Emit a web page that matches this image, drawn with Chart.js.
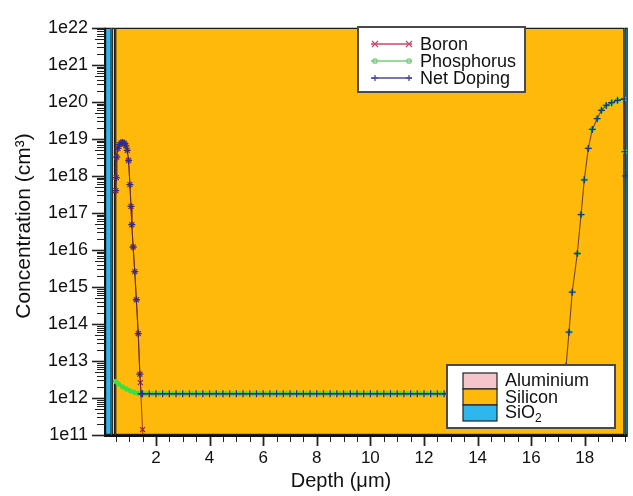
<!DOCTYPE html>
<html><head><meta charset="utf-8">
<script src="https://cdn.jsdelivr.net/npm/chart.js@4.4.0/dist/chart.umd.min.js"></script>
<style>html,body{margin:0;padding:0;background:#fff;}canvas{display:block;}</style>
</head><body>
<canvas id="c" width="633" height="496"></canvas>
<script>
// ---------- data ----------
const boronX = [0.50,0.52,0.54,0.58,0.64,0.70,0.76,0.82,0.88,0.93,0.98,1.03,1.07,1.10,1.15,1.21,1.27,1.34,1.40,1.42,1.50,1.53];
const boronY = [4e17,9e17,3.2e18,5.5e18,7e18,7.8e18,8e18,7.6e18,6.5e18,4.9e18,2.6e18,5.8e17,1.5e17,4.8e16,1.2e16,2.6e15,4.5e14,5.5e13,4.4e12,2.6e12,1.4e11,6e10];

const netLeftX = [0.50,0.52,0.54,0.58,0.64,0.70,0.76,0.82,0.88,0.93,0.98,1.03,1.07,1.10,1.15,1.21,1.27,1.34,1.40,1.45];
const netLeftY = [4e17,9e17,3.2e18,5.5e18,7e18,7.8e18,8e18,7.6e18,6.5e18,4.9e18,2.6e18,5.8e17,1.5e17,4.8e16,1.2e16,2.6e15,4.5e14,5.5e13,4.4e12,1.3e12];
const netFlatX = [1.5,1.75,2,2.25,2.5,2.75,3,3.25,3.5,3.75,
                  4,4.25,4.5,4.75,5,5.25,5.5,5.75,6,6.25,
                  6.5,6.75,7,7.25,7.5,7.75,8,8.25,8.5,8.75,
                  9,9.25,9.5,9.75,10,10.25,10.5,10.75,11,11.25,
                  11.5,11.75,12,12.25,12.5,12.75,13,13.25,13.5,13.75,
                  14,14.25,14.5,14.75,15,15.25,15.5,15.75,16,16.25,
                  16.5,16.75,17];
const netFlatY = [1.3e12,1.3e12,1.3e12,1.3e12,1.3e12,1.3e12,1.3e12,1.3e12,1.3e12,1.3e12,
                  1.3e12,1.3e12,1.3e12,1.3e12,1.3e12,1.3e12,1.3e12,1.3e12,1.3e12,1.3e12,
                  1.3e12,1.3e12,1.3e12,1.3e12,1.3e12,1.3e12,1.3e12,1.3e12,1.3e12,1.3e12,
                  1.3e12,1.3e12,1.3e12,1.3e12,1.3e12,1.3e12,1.3e12,1.3e12,1.3e12,1.3e12,
                  1.3e12,1.3e12,1.3e12,1.3e12,1.3e12,1.3e12,1.3e12,1.3e12,1.3e12,1.3e12,
                  1.3e12,1.3e12,1.3e12,1.3e12,1.3e12,1.3e12,1.3e12,1.3e12,1.3e12,1.3e12,
                  1.3e12,1.3e12,1.3e12];
const netRightX = [17.20,17.30,17.41,17.53,17.72,17.86,17.98,18.13,18.28,18.46,18.62,18.80,19.00,19.22,19.47,19.50,19.52];
const netRightY = [1.4e12,7.2e12,6e13,7.2e14,8e15,9e16,7.8e17,5.5e18,1.8e19,3.5e19,5.9e19,8e19,9.5e19,1.1e20,1.2e20,4.5e18,1e18];

const phosLeftX = [0.50,0.60,0.75,0.90,1.05,1.20,1.35];
const phosLeftY = [2.8e12,2.4e12,2.0e12,1.75e12,1.55e12,1.42e12,1.33e12];
const phosFlatX = [1.62,1.87,2.12,2.37,2.62,2.87,3.12,3.37,3.62,3.87,
                   4.12,4.37,4.62,4.87,5.12,5.37,5.62,5.87,6.12,6.37,
                   6.62,6.87,7.12,7.37,7.62,7.87,8.12,8.37,8.62,8.87,
                   9.12,9.37,9.62,9.87,10.12,10.37,10.62,10.87,11.12,11.37,
                   11.62,11.87,12.12,12.37,12.62,12.87,13.12,13.37,13.62,13.87,
                   14.12,14.37,14.62,14.87,15.12,15.37,15.62,15.87,16.12,16.37,
                   16.62,16.87];
const phosFlatY = [1.3e12,1.3e12,1.3e12,1.3e12,1.3e12,1.3e12,1.3e12,1.3e12,1.3e12,1.3e12,
                   1.3e12,1.3e12,1.3e12,1.3e12,1.3e12,1.3e12,1.3e12,1.3e12,1.3e12,1.3e12,
                   1.3e12,1.3e12,1.3e12,1.3e12,1.3e12,1.3e12,1.3e12,1.3e12,1.3e12,1.3e12,
                   1.3e12,1.3e12,1.3e12,1.3e12,1.3e12,1.3e12,1.3e12,1.3e12,1.3e12,1.3e12,
                   1.3e12,1.3e12,1.3e12,1.3e12,1.3e12,1.3e12,1.3e12,1.3e12,1.3e12,1.3e12,
                   1.3e12,1.3e12,1.3e12,1.3e12,1.3e12,1.3e12,1.3e12,1.3e12,1.3e12,1.3e12,
                   1.3e12,1.3e12];
const phosRightX = [17.20,17.30,17.41,17.53,17.72,17.86,17.98,18.13,18.28,18.46,18.62,18.80,19.00,19.22,19.47,19.50];
const phosRightY = [1.4e12,7.2e12,6e13,7.2e14,8e15,9e16,7.8e17,5.5e18,1.8e19,3.5e19,5.9e19,8e19,9.5e19,1.1e20,1.2e20,4.5e18];

// material layers (depth in µm)
const layerNames = ['SiO2','Aluminium','Silicon','SiO2'];
const layerStart = [0.10, 0.35, 0.48, 19.48];
const layerEnd   = [0.35, 0.48, 19.48, 19.60];

const seriesNames = ['Boron','Phosphorus','Net Doping'];
const materialNames = ['Aluminium','Silicon','SiO'];
const xTickLabels = [2,4,6,8,10,12,14,16,18];
const yTickExponents = [11,12,13,14,15,16,17,18,19,20,21,22];
const xTitle = 'Depth (μm)';
const yTitle = 'Concentration (cm³)';

// ---------- styles ----------
const FONT = '"Liberation Sans", Arial, Helvetica, sans-serif';
const MATERIAL_COLORS = {Aluminium:'#F6C4CB', Silicon:'#FFB90A', SiO2:'#2EB6EE'};
const COL = {boronLine:'rgba(130,20,40,0.75)', boron:'#9E1F45', phosLine:'rgba(70,225,60,0.9)', phos:'#3EE03E',
             netLine:'rgba(80,40,70,0.8)', net:'#26308E'};
const LEG = {boron:'#C84A6A', phos:'#7ACC7A', net:'#4A4AAA'};

function pairs(xs, ys){ return xs.map((v,i)=>({x:v, y:ys[i]})); }

function mark(ctx, style, x, y, r){
  ctx.beginPath();
  if(style==='crossRot'){ ctx.moveTo(x-r,y-r); ctx.lineTo(x+r,y+r); ctx.moveTo(x+r,y-r); ctx.lineTo(x-r,y+r); }
  else if(style==='cross'){ ctx.moveTo(x-r,y); ctx.lineTo(x+r,y); ctx.moveTo(x,y-r); ctx.lineTo(x,y+r); }
  else { ctx.arc(x,y,r,0,Math.PI*2); }
  ctx.stroke();
}

const deco = {
  id:'deco',
  beforeDatasetsDraw(chart){
    const {ctx, chartArea:a, scales:{x}} = chart;
    ctx.save();
    layerNames.forEach((n,i)=>{
      const x0 = x.getPixelForValue(layerStart[i]);
      const x1 = x.getPixelForValue(layerEnd[i]);
      ctx.fillStyle = MATERIAL_COLORS[n];
      ctx.fillRect(x0, a.top, x1-x0, a.bottom-a.top);
      ctx.strokeStyle = '#1c1c1c'; ctx.lineWidth = 1.2;
      ctx.strokeRect(x0+0.6, a.top+0.6, x1-x0-1.2, a.bottom-a.top-1.2);
    });
    ctx.restore();
  },
  afterDatasetsDraw(chart){
    const {ctx, chartArea:a, scales:{x, y}} = chart;
    ctx.save();
    // axis lines
    ctx.strokeStyle = '#111'; ctx.lineWidth = 2;
    ctx.beginPath(); ctx.moveTo(a.left, a.top); ctx.lineTo(a.left, a.bottom+1);
    ctx.lineTo(a.right, a.bottom+1); ctx.stroke();
    // y ticks
    ctx.strokeStyle = '#222';
    yTickExponents.forEach(e=>{
      const py = Math.round(y.getPixelForValue(Math.pow(10,e)))+0.5;
      ctx.lineWidth = 1.6;
      ctx.beginPath(); ctx.moveTo(a.left-13, py); ctx.lineTo(a.left, py); ctx.stroke();
      if(e<22){
        ctx.lineWidth = 1;
        for(let k=2;k<=9;k++){
          const p = Math.round(y.getPixelForValue(k*Math.pow(10,e)))+0.5;
          ctx.beginPath(); ctx.moveTo(a.left-(k===5?10:8), p); ctx.lineTo(a.left, p); ctx.stroke();
        }
      }
    });
    // x ticks
    for(let v=0.5; v<19.6; v+=0.5){
      const px = Math.round(x.getPixelForValue(v))+0.5;
      const major = xTickLabels.includes(v);
      ctx.lineWidth = major ? 1.8 : 1;
      ctx.beginPath(); ctx.moveTo(px, a.bottom+2); ctx.lineTo(px, a.bottom + (major?11:7)); ctx.stroke();
    }
    // axis titles
    ctx.fillStyle = '#111';
    ctx.font = '20px ' + FONT;
    ctx.textAlign = 'center'; ctx.textBaseline = 'middle';
    ctx.fillText(xTitle, 341, 481);
    ctx.font = '21px ' + FONT;
    ctx.save(); ctx.translate(24, 226); ctx.rotate(-Math.PI/2);
    ctx.fillText(yTitle, 0, 0); ctx.restore();

    // top legend
    ctx.fillStyle = '#fff'; ctx.fillRect(358, 27, 167, 65);
    ctx.strokeStyle = '#4a4a4a'; ctx.lineWidth = 2; ctx.strokeRect(358, 27, 167, 65);
    const legY = [44, 61, 78];
    const legCol = [LEG.boron, LEG.phos, LEG.net];
    const legSty = ['crossRot','circle','cross'];
    ctx.font = '18px ' + FONT; ctx.textAlign = 'left'; ctx.textBaseline = 'middle';
    seriesNames.forEach((n,i)=>{
      ctx.strokeStyle = legCol[i]; ctx.lineWidth = 1.3;
      ctx.beginPath(); ctx.moveTo(371, legY[i]); ctx.lineTo(412, legY[i]); ctx.stroke();
      mark(ctx, legSty[i], 375, legY[i], legSty[i]==='circle'?2.2:3);
      mark(ctx, legSty[i], 409, legY[i], legSty[i]==='circle'?2.2:3);
      ctx.fillStyle = '#111'; ctx.fillText(n, 420, legY[i]+1);
    });

    // bottom legend
    ctx.fillStyle = '#fff'; ctx.fillRect(447, 365, 168, 63);
    ctx.strokeStyle = '#4a4a4a'; ctx.lineWidth = 2; ctx.strokeRect(447, 365, 168, 63);
    const swTop = [373, 389, 405];
    const swKeys = ['Aluminium','Silicon','SiO2'];
    const txtY = [381, 398, 413];
    swKeys.forEach((k,i)=>{
      ctx.fillStyle = MATERIAL_COLORS[k]; ctx.fillRect(463, swTop[i], 34, 16);
      ctx.strokeStyle = '#222'; ctx.lineWidth = 1.2; ctx.strokeRect(463, swTop[i], 34, 16);
      ctx.fillStyle = '#111'; ctx.font = '18px ' + FONT;
      ctx.fillText(materialNames[i], 505, txtY[i]);
      if(k==='SiO2'){
        const w = ctx.measureText(materialNames[i]).width;
        ctx.font = '12px ' + FONT; ctx.fillText('2', 505 + w, txtY[i] + 6);
      }
    });
    ctx.restore();
  }
};

new Chart(document.getElementById('c'), {
  type:'line',
  data:{ datasets:[
    { label:'Net Doping', data: pairs(netLeftX,netLeftY).concat(pairs(netFlatX,netFlatY), pairs(netRightX,netRightY)),
      borderColor:COL.netLine, borderWidth:1.1, pointStyle:'cross', pointRadius:3.5, pointBorderWidth:1.3,
      pointBorderColor:COL.net, fill:false, tension:0, order:0,
      segment:{ borderColor: c => (c.p0.parsed.x > 1.4 && c.p1.parsed.x < 17.1 ? 'rgba(40,50,170,0.9)' : undefined) } },
    { label:'Boron', data: pairs(boronX,boronY),
      borderColor:COL.boronLine, borderWidth:1, pointStyle:'crossRot', pointRadius:3.5, pointBorderWidth:1.3,
      pointBorderColor:COL.boron, fill:false, tension:0, order:1 },
    { label:'Phosphorus', data: pairs(phosLeftX,phosLeftY).concat(pairs(phosFlatX,phosFlatY), pairs(phosRightX,phosRightY)),
      borderColor:COL.phosLine, borderWidth:1.2, pointStyle:'circle', pointRadius:2.2, pointBorderWidth:1,
      pointBackgroundColor:COL.phos, pointBorderColor:COL.phos, fill:false, tension:0, order:2,
      segment:{ borderWidth: c => (c.p0.parsed.x < 1.5 ? 3 : 1),
                borderColor: c => (c.p0.parsed.x > 17 ? 'rgba(0,0,0,0)' : undefined) } }
  ]},
  options:{
    responsive:false, devicePixelRatio:1, animation:false,
    layout:{ padding:{ top:20, right:2, left:0, bottom:0 } },
    plugins:{ legend:{display:false}, tooltip:{enabled:false}, title:{display:false} },
    font:{ family: FONT },
    scales:{
      x:{ type:'linear', min:0.1, max:19.6, position:'bottom',
          afterBuildTicks: s => { s.ticks = xTickLabels.map(v=>({value:v})); },
          afterFit: s => { s.height = 61; },
          grid:{ display:false, drawTicks:false }, border:{ display:false },
          ticks:{ padding:13, autoSkip:false, maxRotation:0, color:'#111', font:{ size:17, family:FONT } } },
      y:{ type:'logarithmic', min:1e11, max:1e22, position:'left',
          afterBuildTicks: s => { s.ticks = yTickExponents.map(e=>({value:Math.pow(10,e)})); },
          afterFit: s => { s.width = 105; },
          grid:{ display:false, drawTicks:false }, border:{ display:false },
          ticks:{ padding:17, autoSkip:false, color:'#111', font:{ size:18, family:FONT },
                  callback: v => '1e' + Math.round(Math.log10(v)) } }
    }
  },
  plugins:[deco]
});
</script>
</body></html>
